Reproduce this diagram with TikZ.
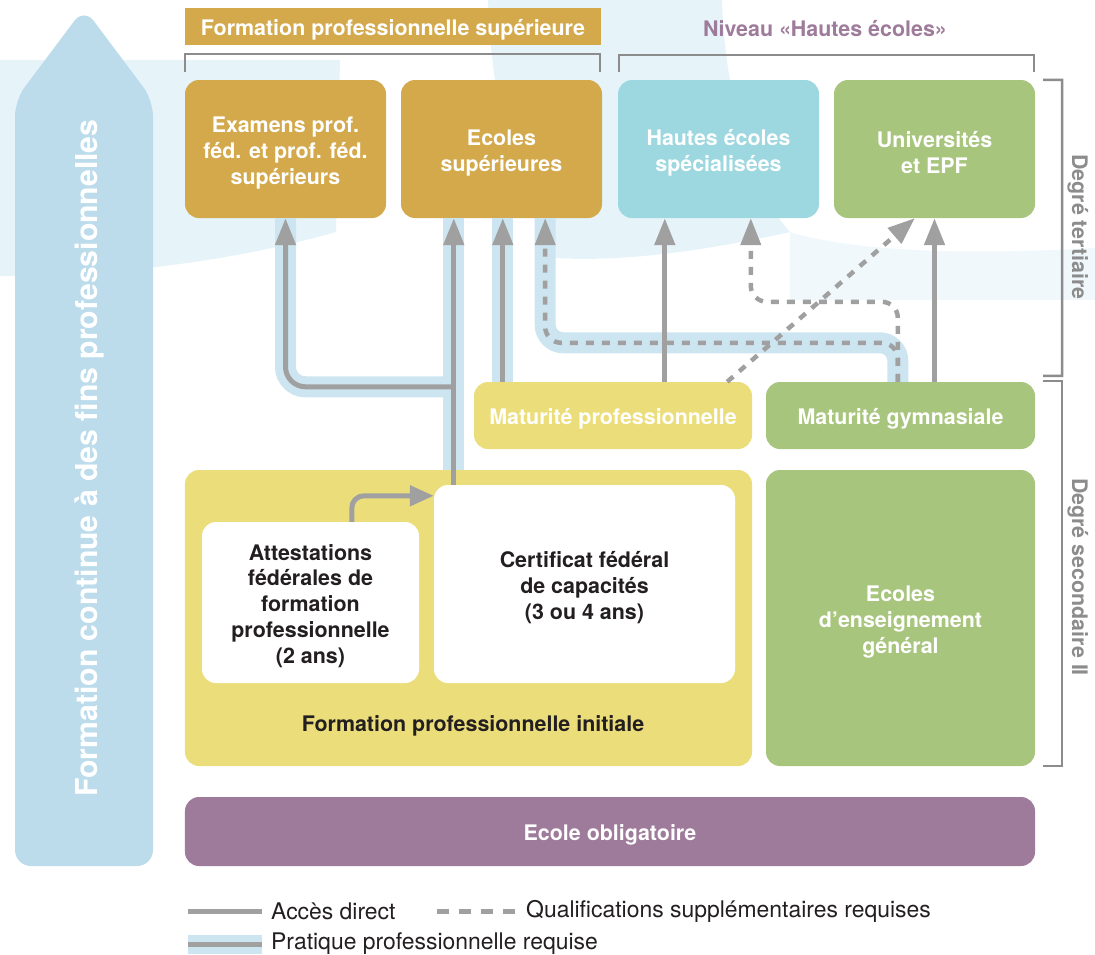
\documentclass[tikz,border=0pt]{standalone}
\usepackage{fontspec}
\setmainfont{TeX Gyre Heros}
\usepackage{xcolor}
\definecolor{colorGold}{HTML}{D3A94B}
\definecolor{colorCyan}{HTML}{9DD7E0}
\definecolor{colorGreen}{HTML}{A8C57E}
\definecolor{colorYellow}{HTML}{EBDE7A}
\definecolor{colorPurple}{HTML}{9E7B9B}
\definecolor{colorArrow}{HTML}{BCDCEC}
\definecolor{colorHalo}{HTML}{CCE5F0}
\definecolor{colorLink}{HTML}{A0A0A0}
\definecolor{colorBracket}{HTML}{8C8C8C}
\definecolor{colorText}{HTML}{231F20}
\definecolor{colorWater}{HTML}{E6F4FA}
\definecolor{colorWaterLight}{HTML}{F1F8FC}
\usetikzlibrary{arrows.meta, positioning}
\newcommand{\hautbloc}{\rule{0pt}{23bp}}
\tikzset{bloc/.style={rectangle, rounded corners=14bp, inner sep=0pt, align=center, text=white, font=\bfseries\fontsize{21.5}{26}\selectfont, execute at begin node={\rule{0pt}{22.5bp}}},
  link/.style={draw=colorLink, line width=5bp, -{Triangle[width=20bp,length=27bp]}},
  dashlink/.style={link, line width=4.5bp, dash pattern=on 8bp off 8bp},
  halo/.style={draw=colorHalo, line width=21bp},
  bracket/.style={draw=colorBracket, line width=2.5bp},
  legend/.style={inner sep=0pt, text=colorText, font=\fontsize{23}{27}\selectfont}}

\begin{document}
\begin{tikzpicture}[x=1bp, y=-1bp]
\useasboundingbox (0,0) rectangle (1095,955);
% filigrane
\fill[colorWater] (0,60) -- (340,60) -- (336,232) .. controls (230,262) and (120,275) .. (0,276) -- cycle;
\fill[colorWater] (488,0) -- (722,0) .. controls (725,110) and (760,200) .. (790,232) .. controls (700,252) and (620,262) .. (555,258) .. controls (515,190) and (492,110) .. (488,0);
\fill[colorWaterLight] (790,232) .. controls (850,250) and (950,256) .. (1095,248) -- (1095,300) -- (790,300) -- cycle;
\fill[colorArrow, rounded corners=16bp] (15,866) -- (15,100) -- (84,8) -- (153,100) -- (153,866) -- cycle;
\node[rotate=90, anchor=base, inner sep=0pt, text=white, font=\bfseries\fontsize{30.3}{36}\selectfont] (fc) at (97,458) {Formation continue à des fins professionnelles};
% titres
\node[bloc, rounded corners=0pt, fill=colorGold, minimum width=416bp, minimum height=37bp] (fps) at (393,26.5) {Formation professionnelle supérieure};
\node[bloc, text=colorPurple] (nhe) at (825,25) {Niveau «Hautes écoles»};
% degre tertiaire
\node[bloc, fill=colorGold, minimum width=201bp, minimum height=138bp] (exam) at (285.5,149) {\hautbloc Examens prof.\\féd. et prof. féd.\\supérieurs};
\node[bloc, fill=colorGold, minimum width=201bp, minimum height=138bp] (ecsup) at (501.5,149) {\hautbloc Ecoles\\supérieures};
\node[bloc, fill=colorCyan, minimum width=201bp, minimum height=138bp] (hes) at (718.5,149) {\hautbloc Hautes écoles\\spécialisées};
\node[bloc, fill=colorGreen, minimum width=201bp, minimum height=138bp] (uni) at (934.5,149) {\hautbloc Universités\\et EPF};
% degre secondaire II
\node[bloc, fill=colorYellow, minimum width=278bp, minimum height=67bp] (matpro) at (613,415.5) {Maturité professionnelle};
\node[bloc, fill=colorGreen, minimum width=269bp, minimum height=67bp] (matgym) at (900.5,415.5) {Maturité gymnasiale};
\node[bloc, fill=colorYellow, minimum width=567bp, minimum height=296bp] (fpi) at (468.5,618) {};
\node[bloc, text=colorText] (fpilabel) at (473,723) {Formation professionnelle initiale};
\node[bloc, fill=white, text=colorText, minimum width=217bp, minimum height=161bp] (afp) at (310.5,602.5) {\hautbloc Attestations\\fédérales de\\formation\\professionnelle\\(2 ans)};
\node[bloc, fill=white, text=colorText, minimum width=301bp, minimum height=198bp] (cfc) at (584.5,584) {\hautbloc Certificat fédéral\\de capacités\\(3 ou 4 ans)};
\node[bloc, fill=colorGreen, minimum width=269bp, minimum height=296bp] (ecg) at (900.5,618) {\hautbloc Ecoles\\d’enseignement\\général};
\node[bloc, fill=colorPurple, minimum width=850bp, minimum height=69bp] (eo) at (610,831.5) {Ecole obligatoire};
% accolades
\draw[bracket] ([yshift=8bp]exam.north west) -- ([yshift=26bp]exam.north west) -- ([xshift=-2bp, yshift=26bp]ecsup.north east) -- ([xshift=-2bp, yshift=8bp]ecsup.north east);
\draw[bracket] ([xshift=1bp, yshift=8bp]hes.north west) -- ([xshift=1bp, yshift=25bp]hes.north west) -- ([xshift=-1bp, yshift=25bp]uni.north east) -- ([xshift=-1bp, yshift=8bp]uni.north east);
\draw[bracket] ([xshift=8bp]uni.north east) -- ([xshift=27bp]uni.north east) -- ([xshift=27bp, yshift=6bp]matgym.north east) -- ([xshift=8bp, yshift=6bp]matgym.north east);
\draw[bracket] ([xshift=8bp, yshift=1bp]matgym.north east) -- ([xshift=27bp, yshift=1bp]matgym.north east) -- ([xshift=27bp]ecg.south east) -- ([xshift=8bp]ecg.south east);
\node[bloc, rotate=-90, anchor=base, text=colorBracket] (dt) at (1072,227) {Degré tertiaire};
\node[bloc, rotate=-90, anchor=base, text=colorBracket] (ds) at (1072,577) {Degré secondaire II};
% points de passage
\coordinate (trunk) at ([xshift=20bp]cfc.north west);
\coordinate (fork) at ([yshift=98bp]trunk);
\coordinate (mp1) at ([xshift=29bp]matpro.north west);
\coordinate (mp2) at ([xshift=-25bp]matpro.north east);
\coordinate (mp3) at ([xshift=191bp]matpro.north west);
\coordinate (mg1) at ([xshift=132bp]matgym.north west);
\coordinate (bend) at ([yshift=39bp]mg1);
\coordinate (bend2) at ([yshift=80bp]mg1);
\coordinate (es3) at ([xshift=-57bp]ecsup.south east);
\coordinate (hs2) at ([xshift=133bp]hes.south west);
\coordinate (un2) at ([xshift=81bp]uni.south west);
\coordinate (af1) at ([xshift=150bp]afp.north west);
\coordinate (af2) at ([yshift=26bp]af1);
% pratique professionnelle requise
\draw[halo] (trunk |- fpi.north) -- (trunk |- ecsup.south);
\draw[halo, rounded corners=20bp] (fork) -- (fork -| exam.south) -- (exam.south);
\draw[halo] (mp1) -- (mp1 |- ecsup.south);
\draw[halo, rounded corners=18bp] (mg1) -- (bend) -- (bend -| es3) -- (es3);
% acces
\draw[link] (trunk) -- (trunk |- ecsup.south);
\draw[link, rounded corners=20bp] (fork) -- (fork -| exam.south) -- (exam.south);
\draw[link] (mp1) -- (mp1 |- ecsup.south);
\draw[link] (mp3) -- (mp3 |- hes.south);
\draw[link] (matgym.north -| uni.south) -- (uni.south);
\draw[dashlink, rounded corners=16bp] (mg1) -- (bend) -- (bend -| es3) -- (es3);
\draw[dashlink, rounded corners=16bp] (mg1) -- (bend2) -- (bend2 -| hs2) -- (hs2);
\draw[dashlink] (mp2) -- (un2);
\draw[link, rounded corners=12bp, -{Triangle[width=20bp,length=24bp]}] (af1) -- (af2) -- (af2 -| cfc.west);
% legende
\coordinate (l1a) at (188,911);
\coordinate (l1b) at (262,911);
\coordinate (l2a) at (437,911);
\coordinate (l2b) at (515,911);
\coordinate (l3a) at (188,944);
\coordinate (l3b) at (262,944);
\draw[draw=colorLink, line width=5bp] (l1a) -- (l1b);
\node[legend, right=9bp of l1b] (lg1) {Accès direct};
\draw[draw=colorLink, line width=5bp, dash pattern=on 12bp off 10bp] (l2a) -- (l2b);
\node[legend, right=11bp of l2b] (lg2) {Qualifications supplémentaires requises};
\draw[draw=colorHalo, line width=19bp] (l3a) -- (l3b);
\draw[draw=colorLink, line width=5bp] (l3a) -- (l3b);
\node[legend, right=9bp of l3b] (lg3) {Pratique professionnelle requise};
\end{tikzpicture}
\end{document}
